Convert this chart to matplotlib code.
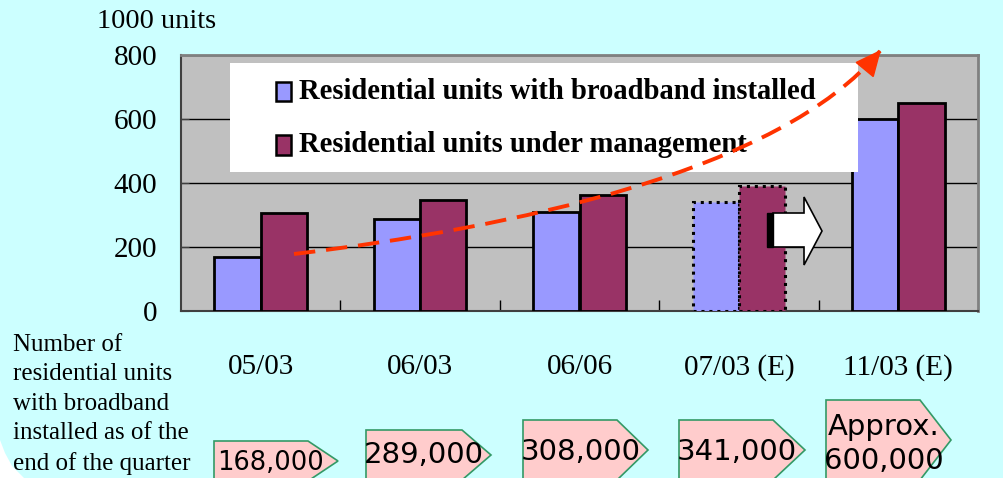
import matplotlib
matplotlib.use("Agg")
import matplotlib.pyplot as plt
from matplotlib.patches import Polygon, Rectangle, PathPatch
from matplotlib.path import Path
import numpy as np

# ── data ────────────────────────────────────────────────────────────────────
quarters   = ["05/03", "06/03", "06/06", "07/03 (E)", "11/03 (E)"]
broadband  = [168, 289, 308, 341, 600]      # 1000 units
managed    = [306, 348, 364, 390, 650]      # 1000 units
estimated  = [False, False, False, True, False]
series     = ["Residential units with broadband installed",
              "Residential units under management"]
box_labels = ["168,000", "289,000", "308,000", "341,000", "Approx.\n600,000"]

BLUE = "#9999FF"
RED  = "#993366"
BG   = "#CCFFFF"
W, H = 1004, 478

SERIF = ["Liberation Serif", "DejaVu Serif"]
plt.rcParams["font.family"] = SERIF


def px(x, y):
    """pixel (from top-left) -> figure fraction"""
    return (x / W, 1 - y / H)


def fig_poly(pts, **kw):
    p = Polygon([px(*q) for q in pts], closed=True, transform=fig.transFigure, **kw)
    fig.patches.append(p)
    return p


fig = plt.figure(figsize=(W / 100, H / 100), dpi=100, facecolor=BG)

# white corner bottom-left
fig_poly([(0, 440), (5, 453), (12, 466), (24, 478), (0, 478)],
         facecolor="white", edgecolor="none")

ax = fig.add_axes([181 / W, 1 - 311 / H, 797 / W, 256 / H])
ax.set_facecolor("#C0C0C0")
ax.set_xlim(-0.5, 4.5)
ax.set_ylim(0, 800)

bw = 0.29
for i in range(len(quarters)):
    if estimated[i]:
        kw = dict(edgecolor="black", linewidth=2.2, linestyle=(0, (1, 1.6)))
    else:
        kw = dict(edgecolor="black", linewidth=2)
    ax.bar(i - bw / 2, broadband[i], bw, color=BLUE, zorder=3, **kw)
    ax.bar(i + bw / 2, managed[i], bw, color=RED, zorder=3, **kw)

ax.set_yticks([0, 200, 400, 600, 800])
ax.yaxis.grid(True, color="black", linewidth=1)
ax.set_axisbelow(True)
ax.tick_params(axis="y", direction="in", length=6, pad=17, labelsize=21,
               color="#404040")
ax.set_xticks(range(len(quarters)))
ax.set_xticklabels(quarters)
ax.tick_params(axis="x", which="major", length=0, pad=31, labelsize=21)
ax.set_xticks([0.5, 1.5, 2.5, 3.5], minor=True)
ax.tick_params(axis="x", which="minor", direction="in", length=8, width=1,
               color="black")
for s in ["left", "bottom"]:
    ax.spines[s].set_color("#404040")
    ax.spines[s].set_linewidth(1.5)
for s in ["top", "right"]:
    ax.spines[s].set_color("#808080")
    ax.spines[s].set_linewidth(2)

# legend box (drawn by hand to match the layout)
fig.patches.append(Rectangle(px(230, 172), 628 / W, 109 / H, transform=fig.transFigure,
                             facecolor="white", edgecolor="none", zorder=4))
for (y0, y1), col, lab in zip([(82, 101), (135, 155)], [BLUE, RED], series):
    fig.patches.append(Rectangle(px(276, y1), 15 / W, (y1 - y0) / H,
                                 transform=fig.transFigure, facecolor=col,
                                 edgecolor="black", linewidth=1.8, zorder=5))
    fig.text(299 / W, 1 - (y0 + y1) / 2 / H, lab, fontsize=20.6, weight="bold",
             va="center", ha="left", zorder=5)

# dashed growth curve + solid head
p0, c1, c2, p3 = (294, 254), (510, 228), (780, 172), (880, 51)
curve = Path([px(*p0), px(*c1), px(*c2), px(*p3)],
             [Path.MOVETO, Path.CURVE4, Path.CURVE4, Path.CURVE4])
fig.patches.append(PathPatch(curve, transform=fig.transFigure, facecolor="none",
                             edgecolor="#FF3300", linewidth=2.8,
                             linestyle=(0, (5.5, 2.8)), zorder=6))
u = np.array(p3, float) - np.array(c2, float)
u /= np.hypot(*u)
n = np.array([-u[1], u[0]])
base = np.array(p3) - 24 * u
fig_poly([tuple(p3), tuple(base + 11 * n), tuple(base - 11 * n)],
         facecolor="#FF3300", edgecolor="#FF3300", linewidth=1, zorder=7)

# white block arrow (07/03 -> 11/03)
fig_poly([(773, 213), (804, 213), (804, 197), (822, 231),
          (804, 265), (804, 247), (773, 247)],
         facecolor="white", edgecolor="black", linewidth=1.2, zorder=7)
fig_poly([(767, 213), (773, 213), (773, 247), (767, 247)],
         facecolor="black", edgecolor="black", zorder=7)

fig.text(97 / W, 1 - 22 / H, "1000 units", fontsize=20.5, va="center", ha="left")

fig.text(13 / W, 1 - 334 / H,
         "Number of\nresidential units\nwith broadband\ninstalled as of the\nend of the quarter",
         fontsize=18, va="top", ha="left", linespacing=1.43)

# pink value boxes: left, top, corner, tip_x, tip_y
boxes = [(214, 441, 308, 338, 461),
         (366, 430, 462, 491, 455),
         (523, 420, 617, 648, 450),
         (679, 420, 773, 805, 450),
         (826, 400, 920, 951, 440)]
text_y = [463, 455, 452, 452, 444]
text_size = [18.5, 21, 21, 21, 21]
for (l, t, c, tx, ty), lab, yy, fs in zip(boxes, box_labels, text_y, text_size):
    d = ty - t
    fig_poly([(l, t), (c, t), (tx, ty), (c, ty + d), (l, ty + d)],
             facecolor="#FFCCCC", edgecolor="#339966", linewidth=1.2)
    fig.text(((l + tx) / 2 - 5) / W, 1 - yy / H, lab, fontsize=fs,
             family="DejaVu Sans", ha="center", va="center", linespacing=1.25)

fig.savefig("out.png", dpi=100, facecolor=BG)
